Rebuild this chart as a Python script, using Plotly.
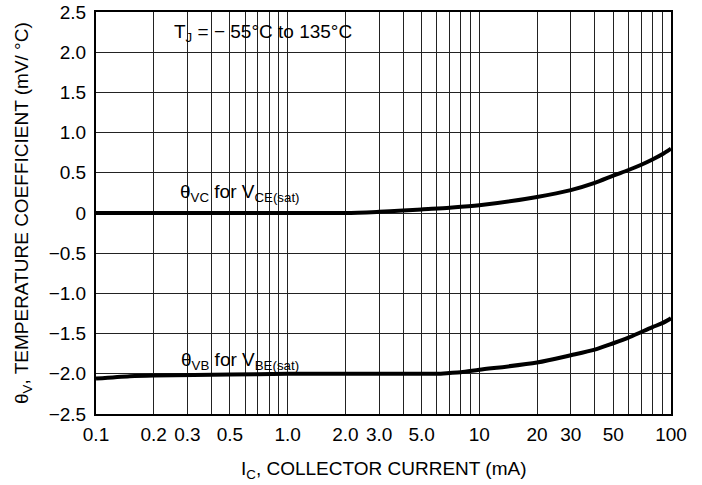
import plotly.graph_objects as go

# Data
ic_vc = [0.1, 0.2, 0.5, 1.0, 2.0, 3.0, 4.0, 5.0, 7.0, 10, 20, 30, 40, 50, 60, 70, 80, 90, 100]
theta_vc = [0.0, 0.0, 0.0, 0.0, 0.0, 0.015, 0.03, 0.045, 0.065, 0.095, 0.2, 0.285, 0.375, 0.465, 0.535, 0.6, 0.665, 0.73, 0.8]

ic_vb = [0.1, 0.15, 0.2, 0.5, 1.0, 2.0, 5.0, 6.0, 7.0, 8.0, 10, 20, 30, 40, 50, 60, 70, 80, 90, 100]
theta_vb = [-2.06, -2.03, -2.02, -2.01, -2.0, -2.0, -2.0, -2.0, -1.99, -1.98, -1.95, -1.86, -1.77, -1.70, -1.62, -1.55, -1.48, -1.42, -1.37, -1.31]

x_tickvals = [0.1, 0.2, 0.3, 0.5, 1.0, 2.0, 3.0, 5.0, 10, 20, 30, 50, 100]
x_ticktext = ["0.1", "0.2", "0.3", "0.5", "1.0", "2.0", "3.0", "5.0", "10", "20", "30", "50", "100"]
x_minor = [0.4, 0.6, 0.7, 0.8, 0.9, 4, 6, 7, 8, 9, 40, 60, 70, 80, 90]

y_tickvals = [-2.5, -2.0, -1.5, -1.0, -0.5, 0, 0.5, 1.0, 1.5, 2.0, 2.5]
y_ticktext = ["\u22122.5", "\u22122.0", "\u22121.5", "\u22121.0", "\u22120.5", "0", "0.5", "1.0", "1.5", "2.0", "2.5"]

FONT = "Liberation Sans, Arial, sans-serif"
FS = 19

fig = go.Figure()
fig.add_trace(go.Scatter(x=ic_vc, y=theta_vc, mode="lines",
                         line=dict(color="black", width=4, shape="spline", smoothing=0.8),
                         showlegend=False, hoverinfo="skip"))
fig.add_trace(go.Scatter(x=ic_vb, y=theta_vb, mode="lines",
                         line=dict(color="black", width=4, shape="spline", smoothing=0.8),
                         showlegend=False, hoverinfo="skip"))

grid = "#222222"
fig.update_xaxes(type="log", range=[-1, 2], tickvals=x_tickvals, ticktext=x_ticktext,
                 showgrid=True, gridcolor=grid, gridwidth=1, automargin=False,
                 minor=dict(tickvals=x_minor, showgrid=True, gridcolor=grid, gridwidth=1, ticks=""),
                 showline=True, linecolor="black", linewidth=2, mirror=True,
                 ticks="", ticklabelstandoff=2, zeroline=False,
                 tickfont=dict(family=FONT, size=FS, color="black"))
fig.update_yaxes(range=[-2.5, 2.5], tickvals=y_tickvals, ticktext=y_ticktext,
                 showgrid=True, gridcolor=grid, gridwidth=1, zeroline=False, automargin=False,
                 showline=True, linecolor="black", linewidth=2, mirror=True,
                 ticks="", ticklabelstandoff=4,
                 tickfont=dict(family=FONT, size=FS, color="black"))

# white label boxes (above grid, below curves)
boxes = [
    (0.111, 0.431, 2.02, 2.5),
    (0.125, 0.407, 0.09, 0.55),
    (0.125, 0.407, -1.99, -1.56),
]
for x0, x1, y0, y1 in boxes:
    fig.add_shape(type="rect", xref="paper", yref="y", x0=x0, x1=x1, y0=y0, y1=y1,
                  fillcolor="white", line=dict(width=0), layer="between")

lab_font = dict(family=FONT, size=FS, color="black")
fig.add_annotation(xref="paper", yref="y", x=0.29, y=2.24, xanchor="center", yanchor="middle",
                   text="T<sub>J</sub> = \u2212 55\u00b0C to 135\u00b0C",
                   showarrow=False, font=lab_font)
fig.add_annotation(xref="paper", yref="y", x=0.25, y=0.25, xanchor="center", yanchor="middle",
                   text="\u03b8<sub>VC</sub> for V<sub>CE(sat)</sub>",
                   showarrow=False, font=lab_font)
fig.add_annotation(xref="paper", yref="y", x=0.25, y=-1.84, xanchor="center", yanchor="middle",
                   text="\u03b8<sub>VB</sub> for V<sub>BE(sat)</sub>",
                   showarrow=False, font=lab_font)

# axis titles
fig.add_annotation(xref="paper", yref="paper", x=-0.127, y=0.5, textangle=-90,
                   xanchor="center", yanchor="middle",
                   text="\u03b8<sub>V</sub>, TEMPERATURE COEFFICIENT (mV/ \u00b0C)",
                   showarrow=False, font=lab_font)
fig.add_annotation(xref="paper", yref="paper", x=0.501, y=-0.139,
                   xanchor="center", yanchor="middle",
                   text="I<sub>C</sub>, COLLECTOR CURRENT (mA)",
                   showarrow=False, font=lab_font)

fig.update_layout(width=702, height=485, autosize=False,
                  margin=dict(l=96, r=31, t=12, b=71),
                  paper_bgcolor="white", plot_bgcolor="white")

fig.write_html("out.html")
